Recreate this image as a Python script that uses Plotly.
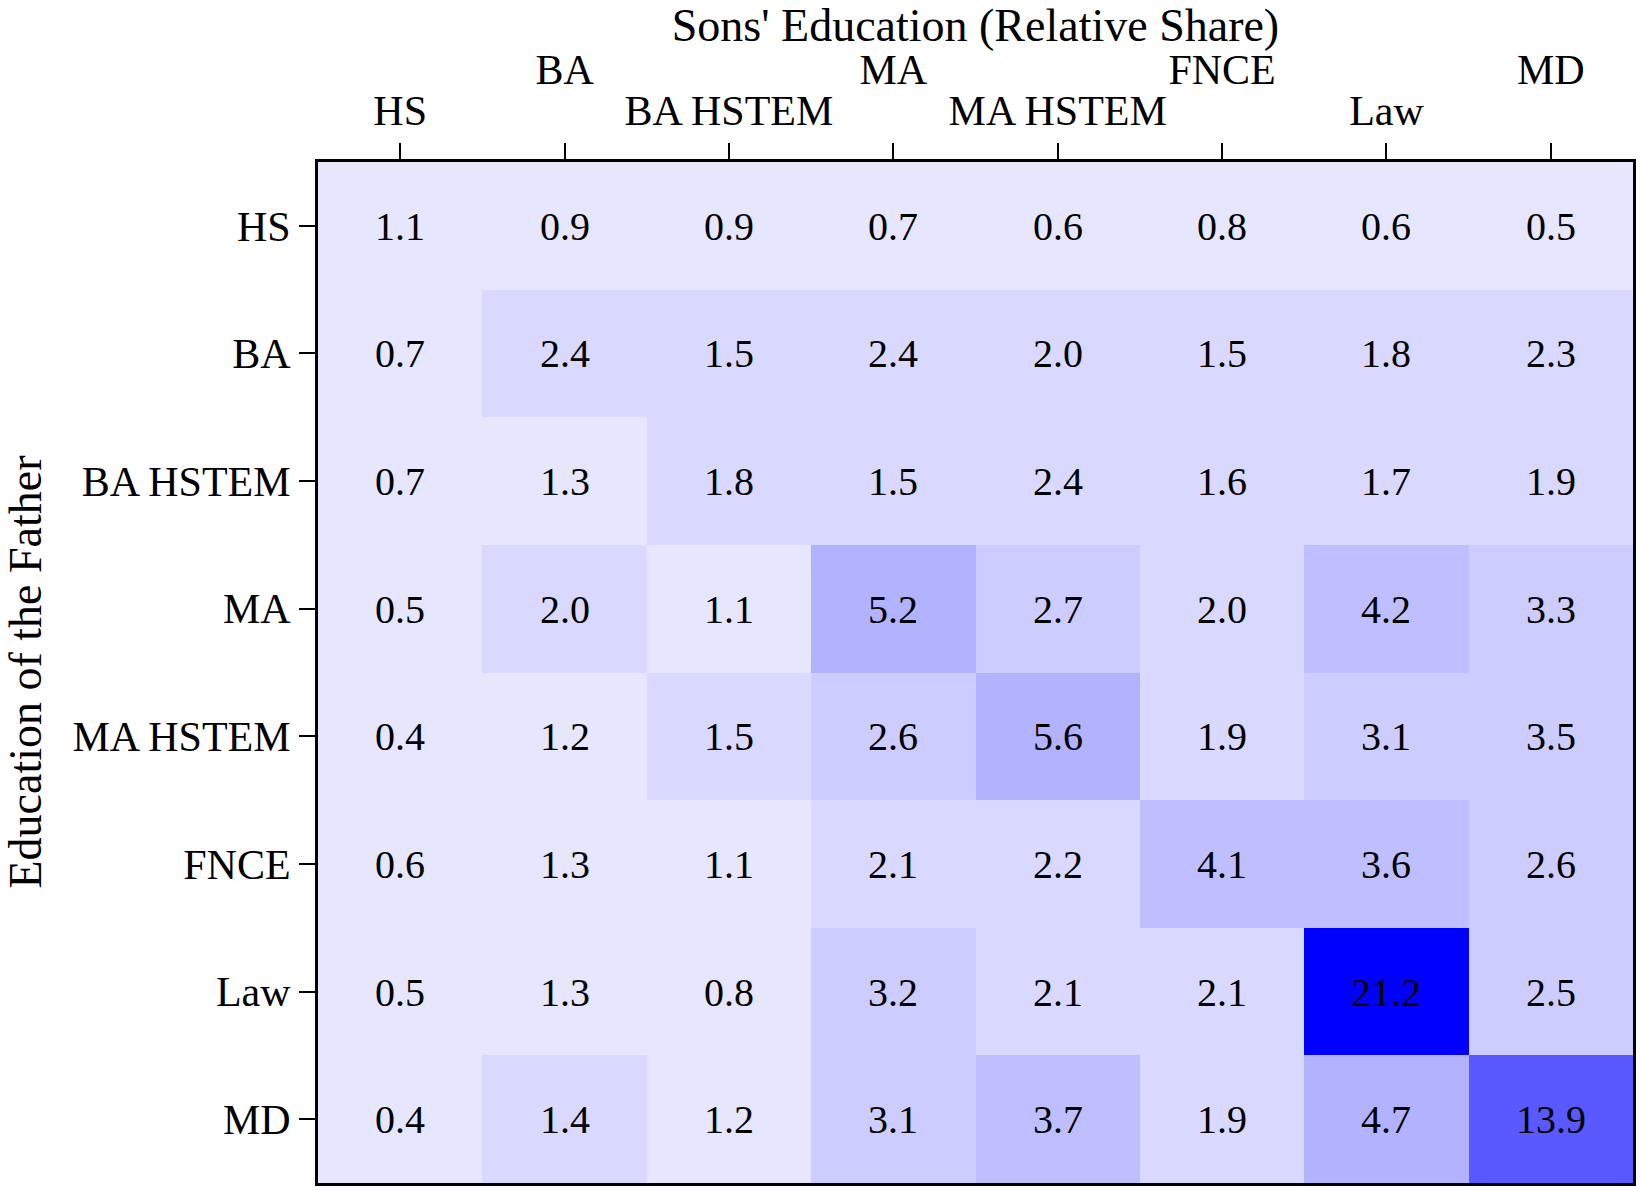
import plotly.graph_objects as go

# ---- data ----
sons_categories = ["HS", "BA", "BA HSTEM", "MA", "MA HSTEM", "FNCE", "Law", "MD"]
father_categories = ["HS", "BA", "BA HSTEM", "MA", "MA HSTEM", "FNCE", "Law", "MD"]

row_HS = [1.1, 0.9, 0.9, 0.7, 0.6, 0.8, 0.6, 0.5]
row_BA = [0.7, 2.4, 1.5, 2.4, 2.0, 1.5, 1.8, 2.3]
row_BA_HSTEM = [0.7, 1.3, 1.8, 1.5, 2.4, 1.6, 1.7, 1.9]
row_MA = [0.5, 2.0, 1.1, 5.2, 2.7, 2.0, 4.2, 3.3]
row_MA_HSTEM = [0.4, 1.2, 1.5, 2.6, 5.6, 1.9, 3.1, 3.5]
row_FNCE = [0.6, 1.3, 1.1, 2.1, 2.2, 4.1, 3.6, 2.6]
row_Law = [0.5, 1.3, 0.8, 3.2, 2.1, 2.1, 21.2, 2.5]
row_MD = [0.4, 1.4, 1.2, 3.1, 3.7, 1.9, 4.7, 13.9]

z = [row_HS, row_BA, row_BA_HSTEM, row_MA, row_MA_HSTEM, row_FNCE, row_Law, row_MD]

# ---- stepped colour scale (style) ----
ZMIN, ZMAX = 0.3, 21.2
edges = [0.3, 1.35, 2.45, 3.55, 4.65, 5.75, 13.0, 15.0, 21.2]
levels = [2, 3, 4, 5, 6, 7, 13, 20]


def shade(k):
    c = int(round(255 - 12.75 * k))
    return f"rgb({c},{c},255)"


colorscale = []
for i, k in enumerate(levels):
    a = (edges[i] - ZMIN) / (ZMAX - ZMIN)
    b = (edges[i + 1] - ZMIN) / (ZMAX - ZMIN)
    colorscale.append([a, shade(k)])
    colorscale.append([b, shade(k)])

FONT = "Liberation Serif, Times New Roman, serif"
L_MARGIN = 318

fig = go.Figure()
fig.add_trace(
    go.Heatmap(
        z=z,
        x=sons_categories,
        y=father_categories,
        colorscale=colorscale,
        zmin=ZMIN,
        zmax=ZMAX,
        showscale=False,
        texttemplate="%{z:.1f}",
        textfont=dict(family=FONT, size=40, color="black"),
        xgap=0,
        ygap=0,
        hoverinfo="skip",
    )
)

lower_labels = [c if i % 2 == 0 else "" for i, c in enumerate(sons_categories)]
upper_idx = [i for i in range(len(sons_categories)) if i % 2 == 1]
upper_labels = [sons_categories[i] for i in upper_idx]

fig.update_layout(
    width=1640,
    height=1190,
    margin=dict(l=L_MARGIN, r=4, t=162, b=4),
    paper_bgcolor="white",
    plot_bgcolor="white",
    font=dict(family=FONT, size=42, color="black"),
    title=dict(
        text="Sons' Education (Relative Share)",
        x=0.5,
        xref="paper",
        xanchor="center",
        y=1 - 25 / 1190,
        yref="container",
        yanchor="middle",
        font=dict(family=FONT, size=46, color="black"),
    ),
    xaxis=dict(
        side="top",
        type="category",
        tickvals=sons_categories,
        ticktext=lower_labels,
        ticks="outside",
        ticklen=16,
        tickwidth=2,
        tickcolor="black",
        ticklabelstandoff=1,
        showline=True,
        linewidth=3,
        linecolor="black",
        mirror=True,
        showgrid=False,
        zeroline=False,
        range=[-0.5, 7.5],
        tickfont=dict(family=FONT, size=42),
    ),
    xaxis2=dict(
        side="top",
        overlaying="x",
        range=[-0.5, 7.5],
        tickvals=upper_idx,
        ticktext=upper_labels,
        ticks="outside",
        ticklen=16,
        tickcolor="rgba(0,0,0,0)",
        ticklabelstandoff=44,
        showline=False,
        showgrid=False,
        zeroline=False,
        tickfont=dict(family=FONT, size=42),
    ),
    yaxis=dict(
        type="category",
        autorange="reversed",
        tickvals=father_categories,
        ticks="outside",
        ticklen=16,
        tickwidth=2,
        tickcolor="black",
        showline=True,
        linewidth=3,
        linecolor="black",
        mirror=True,
        showgrid=False,
        zeroline=False,
        tickfont=dict(family=FONT, size=42),
    ),
    annotations=[
        dict(
            text="Education of the Father",
            xref="paper",
            yref="paper",
            x=0,
            y=0.5,
            xshift=-(L_MARGIN - 25),
            xanchor="center",
            yanchor="middle",
            textangle=-90,
            showarrow=False,
            font=dict(family=FONT, size=46, color="black"),
        )
    ],
)

# invisible anchor trace so xaxis2 is drawn
fig.add_trace(
    go.Scatter(
        x=[upper_idx[0]],
        y=[father_categories[0]],
        xaxis="x2",
        mode="markers",
        marker=dict(opacity=0),
        showlegend=False,
        hoverinfo="skip",
    )
)

fig.write_html(
    "out.html",
    config={"displayModeBar": False},
    post_script="document.body.style.margin='0';document.body.style.overflow='hidden';",
)
